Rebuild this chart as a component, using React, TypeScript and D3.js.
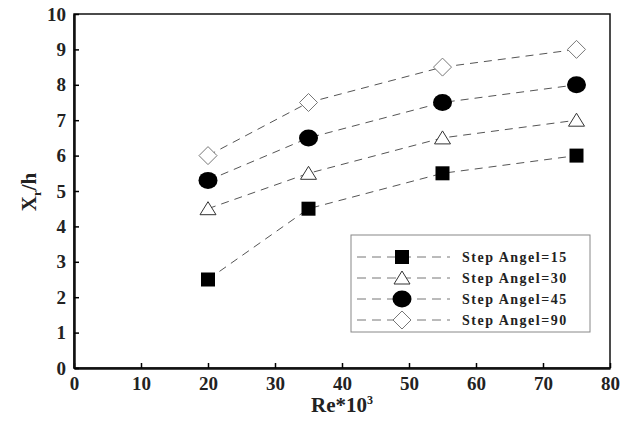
import React, { useEffect, useRef } from 'react';
import * as d3 from 'd3';

const reValues = [20, 35, 55, 75];
const angle15 = [2.5, 4.5, 5.5, 6];
const angle30 = [4.5, 5.5, 6.5, 7];
const angle45 = [5.3, 6.5, 7.5, 8];
const angle90 = [6, 7.5, 8.5, 9];
const seriesNames = ['Step Angel=15', 'Step Angel=30', 'Step Angel=45', 'Step Angel=90'];
const xTicks = [0, 10, 20, 30, 40, 50, 60, 70, 80];
const yTicks = [0, 1, 2, 3, 4, 5, 6, 7, 8, 9, 10];

type Shape = 'square' | 'triangle' | 'circle' | 'diamond';
const shapes: Shape[] = ['square', 'triangle', 'circle', 'diamond'];
const allSeries = [angle15, angle30, angle45, angle90];

function drawMarker(g: d3.Selection<SVGGElement, unknown, null, undefined>, shape: Shape, cx: number, cy: number) {
    if (shape === 'square') {
        g.append('rect').attr('x', cx - 7).attr('y', cy - 7).attr('width', 14).attr('height', 14).attr('fill', '#000');
    } else if (shape === 'circle') {
        g.append('ellipse').attr('cx', cx).attr('cy', cy).attr('rx', 9.5).attr('ry', 8.5).attr('fill', '#000');
    } else if (shape === 'triangle') {
        g.append('path')
            .attr('d', `M${cx},${cy - 7}L${cx + 8},${cy + 6}L${cx - 8},${cy + 6}Z`)
            .attr('fill', '#fff').attr('stroke', '#333').attr('stroke-width', 1);
    } else {
        g.append('path')
            .attr('d', `M${cx},${cy - 9}L${cx + 9},${cy}L${cx},${cy + 9}L${cx - 9},${cy}Z`)
            .attr('fill', '#fff').attr('stroke', '#777').attr('stroke-width', 1);
    }
}

export default function App() {
    const svgRef = useRef<SVGSVGElement>(null);

    useEffect(() => {
        if (!svgRef.current) return;
        const svg = d3.select(svgRef.current);
        svg.selectAll('*').remove();

        const left = 74, right = 610, top = 14, bottom = 368;
        const x = d3.scaleLinear().domain([0, 80]).range([left, right]);
        const y = d3.scaleLinear().domain([0, 10]).range([bottom, top]);
        const font = '"Liberation Serif", "Times New Roman", serif';

        // frame
        svg.append('rect')
            .attr('x', left).attr('y', top).attr('width', right - left).attr('height', bottom - top)
            .attr('fill', 'none').attr('stroke', '#111').attr('stroke-width', 1.5);

        // axes with inward ticks
        const xAxis = svg.append('g')
            .attr('transform', `translate(0,${bottom})`)
            .call(d3.axisBottom(x).tickValues(xTicks).tickSizeInner(-5).tickSizeOuter(0).tickPadding(9));
        xAxis.select('.domain').attr('stroke-width', 2.5).attr('stroke', '#111');
        xAxis.selectAll('.tick line').attr('stroke-width', 1.5);
        xAxis.selectAll('.tick text')
            .style('font-family', font).style('font-weight', 'bold').style('font-size', '19px').attr('fill', '#222');

        const yAxis = svg.append('g')
            .attr('transform', `translate(${left},0)`)
            .call(d3.axisLeft(y).tickValues(yTicks).tickSizeInner(-5).tickSizeOuter(0).tickPadding(8));
        yAxis.select('.domain').attr('stroke-width', 2.5).attr('stroke', '#111');
        yAxis.selectAll('.tick line').attr('stroke-width', 1.5);
        yAxis.selectAll('.tick text')
            .style('font-family', font).style('font-weight', 'bold').style('font-size', '19px').attr('fill', '#222');

        // axis titles
        const xt = svg.append('text')
            .attr('x', 342).attr('y', 412).attr('text-anchor', 'middle')
            .style('font-family', font).style('font-weight', 'bold').style('font-size', '21px').attr('fill', '#222');
        xt.append('tspan').text('Re*10');
        xt.append('tspan').attr('dy', -8).style('font-size', '12px').text('3');

        const yt = svg.append('text')
            .attr('transform', 'translate(36,192) rotate(-90)').attr('text-anchor', 'middle')
            .style('font-family', font).style('font-weight', 'bold').style('font-size', '21px').attr('fill', '#222');
        yt.append('tspan').text('X');
        yt.append('tspan').attr('dy', 5).style('font-size', '13px').text('r');
        yt.append('tspan').attr('dy', -5).text('/h');

        // dashed lines
        const line = d3.line<number>().x((_, i) => x(reValues[i])).y(d => y(d));
        allSeries.forEach(s => {
            svg.append('path').attr('d', line(s)!)
                .attr('fill', 'none').attr('stroke', '#555').attr('stroke-width', 1)
                .attr('stroke-dasharray', '8,6');
        });

        // markers
        const mg = svg.append('g');
        allSeries.forEach((s, si) => {
            s.forEach((v, i) => drawMarker(mg, shapes[si], x(reValues[i]), y(v)));
        });

        // legend
        const lg = svg.append('g');
        lg.append('rect').attr('x', 351).attr('y', 235).attr('width', 239).attr('height', 97)
            .attr('fill', '#fff').attr('stroke', '#888').attr('stroke-width', 1);
        seriesNames.forEach((name, i) => {
            const ly = 257 + i * 21;
            lg.append('line').attr('x1', 357).attr('x2', 450).attr('y1', ly).attr('y2', ly)
                .attr('stroke', '#777').attr('stroke-width', 1).attr('stroke-dasharray', '9,6');
            drawMarker(lg, shapes[i], 402, ly);
            lg.append('text').attr('x', 462).attr('y', ly + 5)
                .style('font-family', font).style('font-weight', 'bold').style('font-size', '14px')
                .style('letter-spacing', '1.5px').attr('fill', '#222').text(name);
        });
    }, []);

    return (
        <svg ref={svgRef} width={634} height={424}
            style={{ position: 'absolute', left: 0, top: 0, background: '#fff' }} />
    );
}
